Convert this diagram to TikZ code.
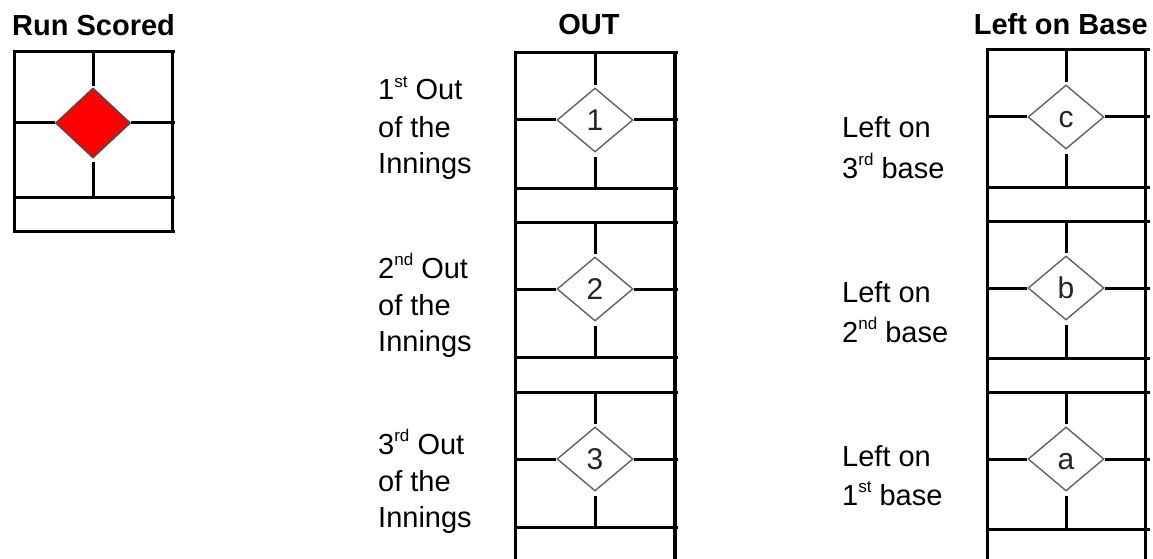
\documentclass[tikz,border=0pt]{standalone}
\usepackage{fontspec}
\setmainfont{Liberation Sans}
\usetikzlibrary{shapes.geometric}
\newcommand{\supx}[1]{\raisebox{0.42em}{\fontsize{17}{17}\selectfont #1}}
\begin{document}
\begin{tikzpicture}[x=1pt,y=-1pt,
  grid/.style={line width=3pt,black},
  basediam/.style={shape=diamond,draw=black!62,line width=1.4pt,fill=white,
    aspect=1.19,minimum width=76pt,minimum height=64pt,inner sep=0pt,
    text height=21.5pt,text depth=0pt,text=black!85,
    font=\fontsize{30}{30}\selectfont},
  lbl/.style={anchor=base west,inner sep=0pt,font=\fontsize{29}{29}\selectfont},
  ttl/.style={inner sep=0pt,font=\fontsize{29}{29}\selectfont\bfseries}]
\useasboundingbox (0,0) rectangle (1153,559);

% titles
\node[ttl,anchor=base west] (t1) at (12,36) {Run Scored};
\node[ttl,anchor=base] (t2) at (589,35) {OUT};
\node[ttl,anchor=base east] (t3) at (1148,35) {Left on Base};

% ---- Run Scored box ----
\node[basediam,fill=red,draw=black!70,minimum width=75pt,minimum height=70pt,aspect=1.07] (rs) at (93,123) {};
\draw[grid] (12.5,52) -- (175,52);
\draw[grid] (14,50.5) -- (14,232.5);
\draw[grid] (172,50.5) -- (172,232.5);
\draw[grid] (14,123) -- (rs.west);
\draw[grid] (rs.east) -- (175,123);
\draw[grid,shorten >=1pt] (93,52) -- (rs.north);
\draw[grid,shorten <=3pt] (rs.south) -- (93,197);
\draw[grid] (14,197) -- (175,197);
\draw[grid] (12.5,231) -- (175,231);

% ---- OUT column ----
\draw[grid] (515,51.5) -- (515,559);
\draw[grid,line width=4pt] (675,51.5) -- (675,559);
\draw[grid] (513.5,53) -- (678,53);
\foreach \t/\k in {53/1,222/2,392/3}{
  \node[basediam] (o\k) at (595,\t+67) {\k};
  \draw[grid] (515,\t) -- (678,\t);
  \draw[grid] (515,\t+67) -- (o\k.west);
  \draw[grid] (o\k.east) -- (678,\t+67);
  \draw[grid,shorten >=2pt] (595,\t) -- (o\k.north);
  \draw[grid,shorten <=4pt] (o\k.south) -- (595,\t+135);
  \draw[grid] (515,\t+135) -- (678,\t+135);
}
\node[lbl] (o1a) at (378,100) {1\supx{st} Out};
\node[lbl] (o1b) at (378,137) {of the};
\node[lbl] (o1c) at (378,173) {Innings};
\node[lbl] (o2a) at (378,278) {2\supx{nd} Out};
\node[lbl] (o2b) at (378,315) {of the};
\node[lbl] (o2c) at (378,351) {Innings};
\node[lbl] (o3a) at (378,454) {3\supx{rd} Out};
\node[lbl] (o3b) at (378,491) {of the};
\node[lbl] (o3c) at (378,527) {Innings};

% ---- Left on Base column ----
\draw[grid] (987,48.5) -- (987,559);
\draw[grid] (1145,48.5) -- (1145,559);
\foreach \t/\k in {50/c,221/b,392/a}{
  \node[basediam] (l\k) at (1066,\t+67) {\k};
  \draw[grid] (985.5,\t) -- (1150,\t);
  \draw[grid] (987,\t+67) -- (l\k.west);
  \draw[grid] (l\k.east) -- (1150,\t+67);
  \draw[grid,shorten >=2pt] (1066,\t) -- (l\k.north);
  \draw[grid,shorten <=4pt] (l\k.south) -- (1066,\t+137);
  \draw[grid] (987,\t+137) -- (1150,\t+137);
}
\node[lbl] (lca) at (842,138) {Left on};
\node[lbl] (lcb) at (842,178) {3\supx{rd} base};
\node[lbl] (lba) at (842,302) {Left on};
\node[lbl] (lbb) at (842,342) {2\supx{nd} base};
\node[lbl] (laa) at (842,466) {Left on};
\node[lbl] (lab) at (842,505) {1\supx{st} base};
\end{tikzpicture}
\end{document}
